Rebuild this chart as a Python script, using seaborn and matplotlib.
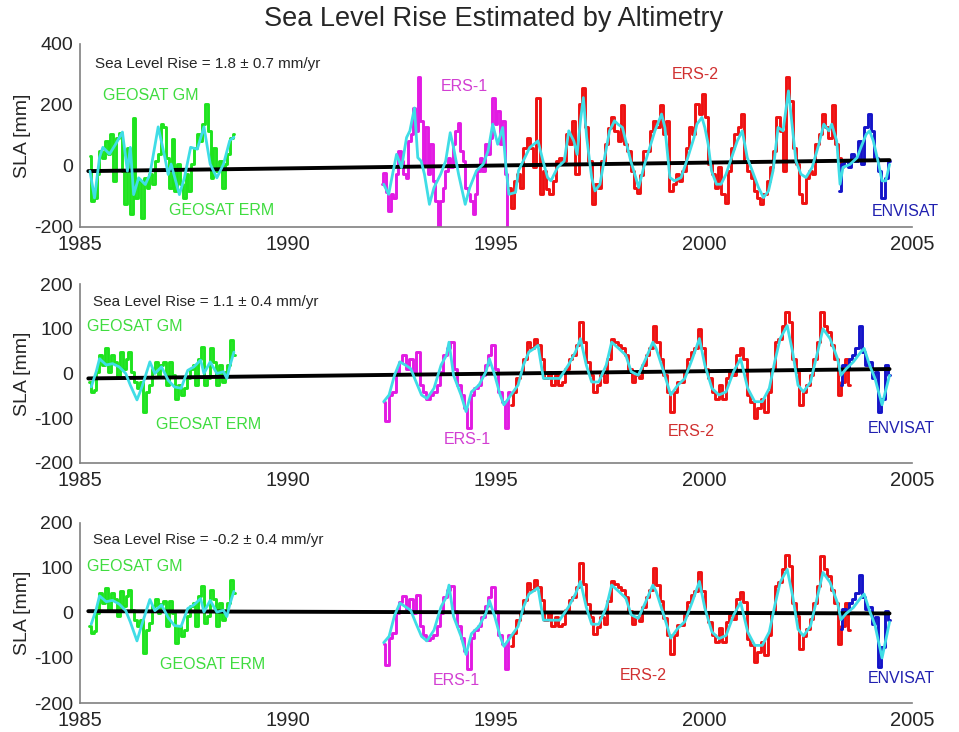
import numpy as np
import matplotlib
matplotlib.use("Agg")
import matplotlib.pyplot as plt
import seaborn as sns

# ---------------- panel 1 (values in mm) ----------------
p1_geo_span = (1985.23, 1988.71)
p1_geo = [33, -115, -104, -27, 49, 27, 82, 38, 104, -49, 93, 109, -16, -126, 60, -158, 158, -104,
          -49, -170, -38, -71, -27, -60, 16, 38, 137, 126, 27, -71, 87, -82, 5, -60, -104, -27,
          -82, 5, 60, 104, 82, 137, 202, 115, -38, 60, -16, 16, -71, 5, 38, 93, 104]
p1_ers1_span = (1992.26, 1995.30)
p1_ers1 = [-60, -22, -87, -148, -93, -104, -27, 49, 16, -27, -38, 82, 104, 191, 115, 290, 148, 5,
           126, -27, 71, -49, -115, -202, -115, -71, -16, 27, -5, 71, 115, 142, 49, 16, -71, -93,
           -115, -158, -93, -16, 27, -16, 71, 38, 93, 224, 137, 180, 71, 148, -27, -202]
p1_ers2_span = (1995.31, 2003.34)
p1_ers2 = [-71, -137, -49,
           -27, -71, 60, 93, 60, -5, 224, -93, -16, -75, -93, -49, 16, 27, 16, 104, 71, 148, -27,
           202, 257, 126, 16, -126, -60, -71, 16, 71, 125, 159, 115, 82, 200, 71, 49, -16, -71,
           -90, -30, 50, 49, 115, 148, 126, 200, 104, 148, -82, -60, -27, -49, -16, 60, 126, 104,
           202, 170, 235, 159, 5, -27, -71, -5, -93, -120, -16, 60, 104, 126, 170, 16, -16, -38,
           -82, -104, -126, -93, -49, -5, 49, 159, 115, -16, 290, 213, 60, 5, -93, -120, -38, -16,
           -27, 71, 104, 170, 126, 93, 200, 71, 27, -5]
p1_env_span = (2003.25, 2004.46)
p1_env = [-82, 5, 16, -5, 38, 16, 82, 5, 126, 170, 115, 27, -16, -104, -38, 16]

p1_geo_smooth_t = [1985.24, 1985.35, 1985.47, 1985.55, 1985.71, 1985.86, 1986.02, 1986.14, 1986.21,
                   1986.29, 1986.41, 1986.57, 1986.68, 1986.88, 1987.04, 1987.12, 1987.19, 1987.39,
                   1987.51, 1987.66, 1987.82, 1987.98, 1988.13, 1988.29, 1988.45, 1988.6, 1988.7]
p1_geo_smooth = [-17, -105, 28, 61, 39, 72, 111, -17, 61, -94, -39, -61, -28, 128, 28, -28, 6, -94,
                 -39, 61, 55, 128, 6, -39, 6, 83, 94]
p1_smooth_t = [1992.30, 1992.42, 1992.53, 1992.61, 1992.73, 1992.85, 1992.93, 1993.04, 1993.12,
               1993.2, 1993.28, 1993.4, 1993.51, 1993.67, 1993.79, 1993.9, 1993.98, 1994.1, 1994.26,
               1994.37, 1994.53, 1994.69, 1994.81, 1994.92, 1995.04, 1995.16, 1995.24, 1995.31,
               1995.47, 1995.54, 1995.81, 1996.01, 1996.13, 1996.24, 1996.32, 1996.48, 1996.64,
               1996.75, 1996.87, 1996.95, 1997.03, 1997.1, 1997.18, 1997.3, 1997.38, 1997.5, 1997.61,
               1997.73, 1997.85, 1997.93, 1998.04, 1998.12, 1998.24, 1998.36, 1998.43, 1998.55,
               1998.67, 1998.82, 1998.98, 1999.06, 1999.18, 1999.29, 1999.45, 1999.61, 1999.76,
               1999.83, 1999.95, 2000.02, 2000.1, 2000.18, 2000.3, 2000.41, 2000.53, 2000.69, 2000.8,
               2000.92, 2001.04, 2001.16, 2001.31, 2001.43, 2001.55, 2001.66, 2001.78, 2001.9,
               2002.03, 2002.09, 2002.21, 2002.33, 2002.45, 2002.6, 2002.76, 2002.88, 2003.0, 2003.07,
               2003.19, 2003.27, 2003.34, 2003.51, 2003.68, 2003.77, 2003.9, 2003.98, 2004.07, 2004.2,
               2004.28, 2004.37, 2004.46]
p1_smooth = [-60, -93, -16, 38, -5, 93, 115, 190, 27, 16, -27, -126, -71, -27, 16, 109, 60, -27,
             -126, -71, -16, 5, 49, 137, 71, 126, -5, -93, -87,
             -16, 60, 82, 16, -38, -49, -5, 16, 115, 82, 38, 148, 224, 93, -38, -82, -60, 27, 115,
             148, 137, 126, 82, 16, -38, -71, -5, 49, 115, 170, 126, -38, -49, -38, 27, 93,
             137, 159, 126, 71, -16, -60, -60, -27, 38, 82, 115, 27, -16, -71, -104, -82, -16, 126,
             115, 246, 170, 16, -27, -38, -5, 71, 137, 115, 137, 82, -60,
             -5, 5, 27, 60, 104, 115, 82, 5, -49, -49, 5]
p1_trend = [-17, 19]

# ---------------- panel 2 ----------------
p2_geo_span = (1985.22, 1988.72)
p2_geo = [-19, -41, -37, 4, 41, 19, 56, 4, 41, 26, -11, 48, 11, 33, 48, 4, -19, -33, -19, -85, -41,
          -26, 11, 26, -4, 19, 26, -26, 26, -4, -56, -26, -48, -33, -11, 11, 19, -26, 33, 59, -26,
          -11, 56, 26, -26, 19, -19, 4, 19, 74, 41]
p2_ers1_span = (1992.30, 1995.34)
p2_ers1 = [-63, -107, -48, -41, 4, 26, 41, 11, 33, 4, 48, -26, -41, -56, -48, -41, -26, 4, 41, 56,
           70, 11, -26, -48, -78, -122, -48, -33, -26, -4, 19, 41, 63, 11, -41, -63, -122, -41]
p2_ers2_span = (1995.36, 2003.51)
p2_ers2 = [-70, -41, -11, 4, 33, 70, 56, 78, 63, 33, -11, 4, -26, -4, -26, -19, 11, 33, 41, 63,
           115, 70, 26, -4, -41, -26, -4, -19, 33, 78, 70, 63, 56, 41, 11, -19, -4, -11, 19, 41,
           56, 107, 70, 33, -4, -41, -85, -41, -19, -19, 4, 33, 48, 56, 100, 56, 11, -11, -41, -56,
           -26, -56, -11, 4, -4, 41, 56, 33, -48, -63, -100, -78, -56, -85, -41, 11, 70, 78, 107,
           137, 115, 33, 4, -70, -41, -26, -4, 33, 70, 137, 107, 93, 63, 33, -48, -19, 33, -26]
p2_env_span = (2003.29, 2004.46)
p2_env = [-26, 19, 11, 33, 41, 56, 107, 48, 19, 26, -11, 4, -85, -56, 19, -4]

p2_geo_smooth_t = [1985.27, 1985.39, 1985.47, 1985.63, 1985.78, 1985.94, 1986.1, 1986.21, 1986.37,
                   1986.49, 1986.68, 1986.8, 1986.96, 1987.12, 1987.27, 1987.43, 1987.59, 1987.74,
                   1987.9, 1987.98, 1988.13, 1988.29, 1988.45, 1988.53, 1988.61, 1988.7]
p2_geo_smooth = [-30, 4, 33, 19, 22, 15, 0, -26, -59, -30, 26, 0, 15, -15, -30, -33, 7, 15, 30, 0,
                 26, 0, 4, -11, 19, 48]
smooth_t = [1992.30, 1992.43, 1992.56, 1992.69, 1992.82, 1992.95, 1993.08, 1993.21, 1993.34, 1993.51,
            1993.68, 1993.81, 1993.87, 1993.98, 1994.16, 1994.28, 1994.41, 1994.59, 1994.76, 1994.84,
            1994.97, 1995.10, 1995.19, 1995.36, 1995.53, 1995.66, 1995.79, 1995.92, 1996.01, 1996.14,
            1996.31, 1996.53, 1996.74, 1996.91, 1997.03, 1997.17, 1997.30, 1997.47, 1997.65, 1997.78,
            1997.95, 1998.12, 1998.25, 1998.42, 1998.60, 1998.77, 1998.85, 1999.03, 1999.20, 1999.37,
            1999.54, 1999.72, 1999.89, 2000.02, 2000.19, 2000.36, 2000.53, 2000.71, 2000.88, 2001.05,
            2001.22, 2001.40, 2001.57, 2001.70, 2001.83, 2002.00, 2002.13, 2002.26, 2002.39, 2002.56,
            2002.73, 2002.86, 2003.03, 2003.21, 2003.29, 2003.42, 2003.59, 2003.77, 2003.85, 2003.98,
            2004.11, 2004.28, 2004.46]
p2_smooth = [-63, -48, -4, 26, 19, 11, -19, -48, -56, -33, 19, 41, 70, -4, -48, -85, -41, -26, 4, 33,
             -4, -48, -70, -48, -26, 19, 48, 56, 63, -11, -11, -11, 19, 48, 78, 19, -19, -19, 19, 70,
             56, 41, 4, -4, 33, 70, 56, 4, -48, -26, -11, 33, 78, 19, -33, -48, -41, 4, 33, -33,
             -63, -63, -33, 26, 78, 107, 48, -26, -41, -19, 48, 100, 78, 33, -4, 11, 26, 48, 56, 19,
             -11, -70, -4]
p2_trend = [-11, 10]

# ---------------- panel 3 ----------------
p3_geo_span = (1985.22, 1988.72)
p3_geo = [-30, -44, -41, 0, 44, 22, 56, 7, 44, 30, -7, 48, 15, 37, 52, 7, -15, -30, -15, -89, -37,
          -22, 15, 30, 0, 19, 26, -30, 26, 0, -67, -30, -52, -37, -7, 15, 22, -30, 37, 59, -22, -7,
          52, 30, -30, 22, -15, 7, 22, 74, 44]
p3_ers1_span = (1992.30, 1995.34)
p3_ers1 = [-68, -115, -55, -45, 0, 25, 38, 8, 30, 0, 40, -30, -48, -60, -55, -48, -30, 0, 35, 50,
           60, 5, -30, -55, -85, -125, -55, -38, -30, -8, 15, 35, 58, 5, -48, -70, -125, -48]
p3_ers2_span = (1995.36, 2003.51)
p3_ers2 = [-74, -45, -15, 0, 28, 66, 52, 74, 58, 28, -15, 0, -30, -8, -30, -24, 6, 28, 36, 58,
           110, 64, 20, -10, -47, -32, -10, -25, 27, 72, 64, 57, 50, 35, 5, -25, -10, -17, 13, 35,
           50, 100, 63, 26, -11, -48, -92, -48, -26, -26, -4, 25, 40, 48, 92, 48, 3, -19, -49, -64,
           -34, -64, -19, -4, -13, 32, 47, 24, -57, -72, -109, -87, -65, -94, -50, 2, 61, 69, 98,
           128, 105, 23, -6, -80, -51, -36, -14, 23, 60, 127, 97, 82, 52, 22, -70, -30, 22, -37]
p3_env_span = (2003.29, 2004.46)
p3_env = [-35, 8, 0, 22, 30, 44, 84, 36, 8, 14, -25, -10, -119, -75, 5, -15]

p3_geo_smooth = [-25, 8, 38, 25, 28, 20, 5, -20, -62, -25, 30, 5, 18, -10, -28, -30, 10, 18, 32, 2,
                 28, 2, 6, -8, 22, 48]
p3_smooth = [-66, -52, -6, 22, 14, 6, -24, -52, -62, -38, 14, 36, 62, -8, -52, -92, -46, -30, 0, 28,
             -8, -52, -74, -52, -30, 13, 42, 50, 56, -16, -16, -16, 13, 42, 70, 13, -25, -25, 12, 62,
             48, 33, -4, -12, 25, 62, 48, -4, -56, -34, -19, 25, 70, 11, -42, -57, -50, -5, 24, -42,
             -72, -72, -42, 16, 68, 97, 38, -36, -51, -29, 38, 90, 68, 22, -15, -1, 12, 34, 42, 5,
             -27, -100, -20]
p3_trend = [4, -1]

trend_t = [1985.2, 2004.46]
rates = ["1.8 \u00b1 0.7", "1.1 \u00b1 0.4", "-0.2 \u00b1 0.4"]

# ---------------- style ----------------
GREEN, MAGENTA, RED, BLUE, CYAN = "#1ee31e", "#e21be2", "#ee1111", "#1414c8", "#3fdde6"
GREY = "#808080"

sns.set_style("white")
plt.rcParams["font.family"] = ["Liberation Sans", "DejaVu Sans"]
plt.rcParams["axes.unicode_minus"] = False

panels = [
    dict(geo=(p1_geo_span, p1_geo), ers1=(p1_ers1_span, p1_ers1), ers2=(p1_ers2_span, p1_ers2),
         env=(p1_env_span, p1_env), gs=(p1_geo_smooth_t, p1_geo_smooth), sm=(p1_smooth_t, p1_smooth),
         trend=p1_trend, ylim=(-200, 400), yticks=[-200, 0, 200, 400],
         labels=[(1985.35, 335, "rate"), (1986.7, 230, "GEOSAT GM"), (1988.4, -145, "GEOSAT ERM"),
                 (1994.25, 262, "ERS-1"), (1999.8, 300, "ERS-2"), (2004.85, -148, "ENVISAT")]),
    dict(geo=(p2_geo_span, p2_geo), ers1=(p2_ers1_span, p2_ers1), ers2=(p2_ers2_span, p2_ers2),
         env=(p2_env_span, p2_env), gs=(p2_geo_smooth_t, p2_geo_smooth), sm=(smooth_t, p2_smooth),
         trend=p2_trend, ylim=(-200, 200), yticks=[-200, -100, 0, 100, 200],
         labels=[(1985.31, 159, "rate"), (1986.33, 104, "GEOSAT GM"), (1988.1, -115, "GEOSAT ERM"),
                 (1994.3, -148, "ERS-1"), (1999.7, -130, "ERS-2"), (2004.75, -122, "ENVISAT")]),
    dict(geo=(p3_geo_span, p3_geo), ers1=(p3_ers1_span, p3_ers1), ers2=(p3_ers2_span, p3_ers2),
         env=(p3_env_span, p3_env), gs=(p2_geo_smooth_t, p3_geo_smooth), sm=(smooth_t, p3_smooth),
         trend=p3_trend, ylim=(-200, 200), yticks=[-200, -100, 0, 100, 200],
         labels=[(1985.31, 163, "rate"), (1986.33, 104, "GEOSAT GM"), (1988.2, -115, "GEOSAT ERM"),
                 (1994.05, -149, "ERS-1"), (1998.55, -138, "ERS-2"), (2004.75, -145, "ENVISAT")]),
]
label_colors = {"GEOSAT GM": "#3fdc3f", "GEOSAT ERM": "#3fdc3f", "ERS-1": "#d23fd2",
                "ERS-2": "#d03030", "ENVISAT": "#2020b0"}
boxes = [[0.0834, 0.690, 0.8676, 0.250], [0.0834, 0.3675, 0.8676, 0.2445],
         [0.0834, 0.0396, 0.8676, 0.246]]

fig = plt.figure(figsize=(9.59, 7.32), dpi=100)
for i, (p, box) in enumerate(zip(panels, boxes)):
    ax = fig.add_axes(box)
    for key, col in [("geo", GREEN), ("ers1", MAGENTA), ("ers2", RED), ("env", BLUE)]:
        span, vals = p[key]
        t = np.linspace(span[0], span[1], len(vals))
        sns.lineplot(x=t, y=vals, color=col, lw=2.1, ax=ax, estimator=None, sort=False,
                     drawstyle="steps-mid")
    sns.lineplot(x=trend_t, y=p["trend"], color="black", lw=2.8, ax=ax, estimator=None, sort=False)
    for key in ["gs", "sm"]:
        t, vals = p[key]
        sns.lineplot(x=t, y=vals, color=CYAN, lw=2.0, ax=ax, estimator=None, sort=False)

    for x, y, txt in p["labels"]:
        if txt == "rate":
            ax.text(x, y, "Sea Level Rise = %s mm/yr" % rates[i], fontsize=11, ha="left", va="center")
        else:
            ax.text(x, y, txt, fontsize=11.5, ha="center", va="center", color=label_colors[txt],
                    clip_on=False)

    ax.set_xlim(1985, 2005)
    ax.set_ylim(*p["ylim"])
    ax.set_xticks([1985, 1990, 1995, 2000, 2005])
    ax.set_yticks(p["yticks"])
    ax.set_ylabel("SLA [mm]", fontsize=14, labelpad=2)
    ax.set_xlabel("")
    for s in ["top", "right"]:
        ax.spines[s].set_visible(False)
    for s in ["left", "bottom"]:
        ax.spines[s].set_color(GREY)
        ax.spines[s].set_linewidth(1.2)
    ax.tick_params(axis="both", direction="in", length=5, color=GREY)
    ax.tick_params(axis="x", pad=6, labelsize=14.5)
    ax.tick_params(axis="y", pad=5, labelsize=14)

fig.text(0.515, 0.974, "Sea Level Rise Estimated by Altimetry", ha="center", va="center", fontsize=19.5)
fig.savefig("out.png", dpi=100)
